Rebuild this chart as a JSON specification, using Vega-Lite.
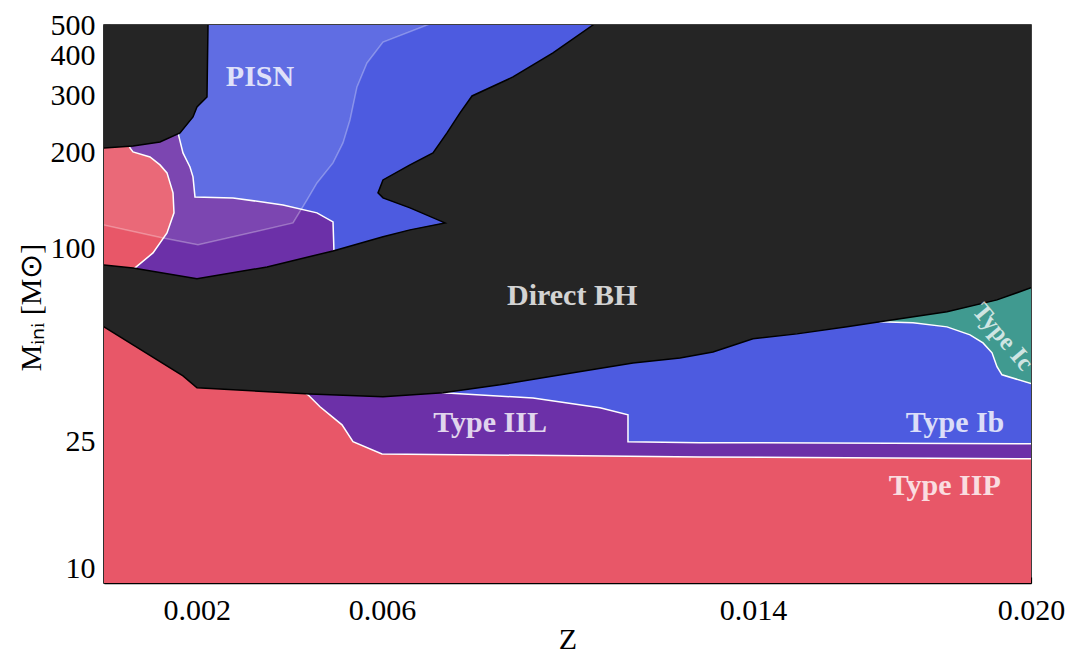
{
  "$schema": "https://vega.github.io/schema/vega-lite/v6.json",
  "width": 927,
  "height": 558,
  "autosize": {"type": "none"},
  "padding": {"left": 104, "top": 25, "right": 38, "bottom": 70},
  "background": "white",
  "config": {
    "view": {"stroke": "#000000", "strokeWidth": 1.5},
    "font": "Liberation Serif",
    "axis": {
      "grid": false,
      "domainColor": "#000000",
      "domainWidth": 1.5,
      "tickColor": "#000000",
      "tickWidth": 1.2,
      "tickSize": -6,
      "labelFont": "Liberation Serif",
      "labelFontSize": 30,
      "labelColor": "#000000",
      "labelFlush": false,
      "labelOverlap": false,
      "titleFont": "Liberation Serif",
      "titleFontSize": 30,
      "titleFontWeight": "normal",
      "titleColor": "#000000",
      "zindex": 1
    }
  },
  "datasets": {
    "bg": [
      {"Z": -0.001, "M": 8, "i": 0},
      {"Z": 0.021, "M": 8, "i": 1},
      {"Z": 0.021, "M": 600, "i": 2},
      {"Z": -0.001, "M": 600, "i": 3}
    ],
    "purple": [
      {"Z": 0.004229, "M": 36.2, "i": 0},
      {"Z": 0.004401, "M": 34.9, "i": 1},
      {"Z": 0.00466, "M": 32.0, "i": 2},
      {"Z": 0.004919, "M": 29.8, "i": 3},
      {"Z": 0.005135, "M": 28.1, "i": 4},
      {"Z": 0.005372, "M": 24.9, "i": 5},
      {"Z": 0.005998, "M": 22.8, "i": 6},
      {"Z": 0.012859, "M": 22.3, "i": 7},
      {"Z": 0.0206, "M": 22.0, "i": 8},
      {"Z": 0.0206, "M": 600, "i": 9},
      {"Z": -0.0005, "M": 600, "i": 10},
      {"Z": -0.0005, "M": 69.1, "i": 11}
    ],
    "blueTop": [
      {"Z": 0.001553, "M": 252.4, "i": 0},
      {"Z": 0.001597, "M": 229.9, "i": 1},
      {"Z": 0.001704, "M": 199.1, "i": 2},
      {"Z": 0.001855, "M": 179.9, "i": 3},
      {"Z": 0.00192, "M": 167.5, "i": 4},
      {"Z": 0.001963, "M": 145.0, "i": 5},
      {"Z": 0.002783, "M": 144.0, "i": 6},
      {"Z": 0.003862, "M": 136.9, "i": 7},
      {"Z": 0.004595, "M": 129.3, "i": 8},
      {"Z": 0.004941, "M": 121.2, "i": 9},
      {"Z": 0.004962, "M": 97.6, "i": 10},
      {"Z": 0.004962, "M": 90.9, "i": 11},
      {"Z": 0.010701, "M": 90.9, "i": 12},
      {"Z": 0.010701, "M": 600, "i": 13},
      {"Z": 0.001855, "M": 600, "i": 14}
    ],
    "blueLow": [
      {"Z": 0.006818, "M": 37.5, "i": 0},
      {"Z": 0.007314, "M": 35.4, "i": 1},
      {"Z": 0.009256, "M": 34.1, "i": 2},
      {"Z": 0.010701, "M": 31.8, "i": 3},
      {"Z": 0.011305, "M": 30.2, "i": 4},
      {"Z": 0.011305, "M": 24.9, "i": 5},
      {"Z": 0.012859, "M": 24.7, "i": 6},
      {"Z": 0.013873, "M": 24.7, "i": 7},
      {"Z": 0.0206, "M": 24.5, "i": 8},
      {"Z": 0.0206, "M": 79.8, "i": 9},
      {"Z": 0.006818, "M": 79.8, "i": 10}
    ],
    "teal": [
      {"Z": 0.016526, "M": 62.0, "i": 0},
      {"Z": 0.016742, "M": 59.0, "i": 1},
      {"Z": 0.017454, "M": 58.6, "i": 2},
      {"Z": 0.018188, "M": 56.9, "i": 3},
      {"Z": 0.018684, "M": 53.7, "i": 4},
      {"Z": 0.018964, "M": 50.7, "i": 5},
      {"Z": 0.019159, "M": 47.2, "i": 6},
      {"Z": 0.019266, "M": 42.7, "i": 7},
      {"Z": 0.019374, "M": 40.3, "i": 8},
      {"Z": 0.0206, "M": 35.6, "i": 9},
      {"Z": 0.0206, "M": 85.8, "i": 10}
    ],
    "redCircle": [
      {"Z": -0.0005, "M": 218.6, "i": 0},
      {"Z": 0.000518, "M": 218.6, "i": 1},
      {"Z": 0.000561, "M": 206.4, "i": 2},
      {"Z": 0.000626, "M": 200.5, "i": 3},
      {"Z": 0.000992, "M": 193.4, "i": 4},
      {"Z": 0.001208, "M": 182.6, "i": 5},
      {"Z": 0.001359, "M": 172.4, "i": 6},
      {"Z": 0.001489, "M": 149.3, "i": 7},
      {"Z": 0.00151, "M": 129.3, "i": 8},
      {"Z": 0.001359, "M": 111.9, "i": 9},
      {"Z": 0.001057, "M": 96.9, "i": 10},
      {"Z": 0.000669, "M": 87.0, "i": 11},
      {"Z": 0.000518, "M": 82.75, "i": 12},
      {"Z": -0.0005, "M": 82.75, "i": 13}
    ],
    "pisn": [
      {"Z": -0.0005, "M": 600, "i": 0},
      {"Z": 0.00781, "M": 557, "i": 1},
      {"Z": 0.006019, "M": 442.4, "i": 2},
      {"Z": 0.005674, "M": 380.4, "i": 3},
      {"Z": 0.005458, "M": 320.1, "i": 4},
      {"Z": 0.005307, "M": 252.4, "i": 5},
      {"Z": 0.005156, "M": 213.9, "i": 6},
      {"Z": 0.004941, "M": 185.3, "i": 7},
      {"Z": 0.004595, "M": 160.4, "i": 8},
      {"Z": 0.00438, "M": 141.9, "i": 9},
      {"Z": 0.004078, "M": 120.3, "i": 10},
      {"Z": 0.002028, "M": 102.7, "i": 11},
      {"Z": 0.001251, "M": 108.0, "i": 12},
      {"Z": -0.0005, "M": 122.9, "i": 13}
    ],
    "blackBig": [
      {"Z": 0.011003, "M": 557, "i": 0},
      {"Z": 0.0206, "M": 557, "i": 1},
      {"Z": 0.0206, "M": 77.6, "i": 2},
      {"Z": 0.02, "M": 75.4, "i": 3},
      {"Z": 0.019266, "M": 69.1, "i": 4},
      {"Z": 0.018188, "M": 63.4, "i": 5},
      {"Z": 0.016742, "M": 59.0, "i": 6},
      {"Z": 0.01603, "M": 56.9, "i": 7},
      {"Z": 0.014951, "M": 54.1, "i": 8},
      {"Z": 0.014002, "M": 52.2, "i": 9},
      {"Z": 0.013139, "M": 47.5, "i": 10},
      {"Z": 0.012427, "M": 45.5, "i": 11},
      {"Z": 0.011413, "M": 43.9, "i": 12},
      {"Z": 0.009989, "M": 40.6, "i": 13},
      {"Z": 0.008544, "M": 37.5, "i": 14},
      {"Z": 0.007314, "M": 35.4, "i": 15},
      {"Z": 0.006019, "M": 34.4, "i": 16},
      {"Z": 0.004444, "M": 35.1, "i": 17},
      {"Z": 0.002006, "M": 36.7, "i": 18},
      {"Z": 0.001704, "M": 40.0, "i": 19},
      {"Z": 0.000626, "M": 50.0, "i": 20},
      {"Z": 0.0, "M": 56.9, "i": 21},
      {"Z": -0.0005, "M": 62.95, "i": 22},
      {"Z": -0.0005, "M": 90.2, "i": 23},
      {"Z": 0.0, "M": 88.9, "i": 24},
      {"Z": 0.000626, "M": 87.0, "i": 25},
      {"Z": 0.002006, "M": 80.4, "i": 26},
      {"Z": 0.003517, "M": 87.6, "i": 27},
      {"Z": 0.004941, "M": 98.3, "i": 28},
      {"Z": 0.006019, "M": 108.8, "i": 29},
      {"Z": 0.006602, "M": 114.4, "i": 30},
      {"Z": 0.007357, "M": 120.3, "i": 31},
      {"Z": 0.006602, "M": 134.0, "i": 32},
      {"Z": 0.006019, "M": 144.0, "i": 33},
      {"Z": 0.005911, "M": 149.3, "i": 34},
      {"Z": 0.006019, "M": 163.9, "i": 35},
      {"Z": 0.006602, "M": 182.6, "i": 36},
      {"Z": 0.007098, "M": 199.1, "i": 37},
      {"Z": 0.0074, "M": 229.9, "i": 38},
      {"Z": 0.007681, "M": 265.5, "i": 39},
      {"Z": 0.00794, "M": 300.0, "i": 40},
      {"Z": 0.008824, "M": 344.0, "i": 41},
      {"Z": 0.009687, "M": 408.8, "i": 42},
      {"Z": 0.01055, "M": 500, "i": 43}
    ],
    "blackTL": [
      {"Z": -0.0005, "M": 557, "i": 0},
      {"Z": 0.002265, "M": 557, "i": 1},
      {"Z": 0.002244, "M": 500, "i": 2},
      {"Z": 0.002222, "M": 297.9, "i": 3},
      {"Z": 0.002006, "M": 277.1, "i": 4},
      {"Z": 0.00192, "M": 257.9, "i": 5},
      {"Z": 0.00164, "M": 229.9, "i": 6},
      {"Z": 0.001208, "M": 215.4, "i": 7},
      {"Z": 0.000626, "M": 209.3, "i": 8},
      {"Z": 0.0, "M": 206.4, "i": 9},
      {"Z": -0.0005, "M": 204.8, "i": 10}
    ],
    "labels": [
      {"Z": 0.003366, "M": 344, "label": "PISN"},
      {"Z": 0.0101, "M": 71.1, "label": "Direct BH"},
      {"Z": 0.00833, "M": 28.5, "label": "Type IIL"},
      {"Z": 0.01836, "M": 28.5, "label": "Type Ib"},
      {"Z": 0.01814, "M": 18.1, "label": "Type IIP"}
    ],
    "labelIc": [
      {"Z": 0.0194, "M": 53.0, "label": "Type Ic"}
    ]
  },
  "encoding": {
    "x": {
      "field": "Z",
      "type": "quantitative",
      "scale": {"domain": [0, 0.02], "nice": false, "zero": false},
      "axis": {
        "title": "Z",
        "values": [0.002, 0.006, 0.014, 0.02],
        "format": ".3f",
        "labelPadding": 18,
        "titleY": 65,
        "titleBaseline": "alphabetic"
      }
    },
    "y": {
      "field": "M",
      "type": "quantitative",
      "scale": {"type": "log", "domain": [9, 500], "nice": false},
      "axis": {
        "title": "Mᵢₙᵢ [M⊙]",
        "values": [10, 25, 100, 200, 300, 400, 500],
        "format": "d",
        "labelPadding": 15,
        "titleX": -64,
        "titleY": 282,
        "titleBaseline": "alphabetic"
      }
    }
  },
  "layer": [
    {
      "data": {"name": "bg"},
      "mark": {"type": "line", "interpolate": "linear-closed", "fill": "#e85768", "stroke": "#e85768", "strokeWidth": 0, "clip": true},
      "encoding": {"order": {"field": "i", "type": "quantitative"}}
    },
    {
      "data": {"name": "purple"},
      "mark": {"type": "line", "interpolate": "linear-closed", "fill": "#6c30a8", "stroke": "#ffffff", "strokeWidth": 1.5, "clip": true},
      "encoding": {"order": {"field": "i", "type": "quantitative"}}
    },
    {
      "data": {"name": "blueTop"},
      "mark": {"type": "line", "interpolate": "linear-closed", "fill": "#4d5be0", "stroke": "#ffffff", "strokeWidth": 1.5, "clip": true},
      "encoding": {"order": {"field": "i", "type": "quantitative"}}
    },
    {
      "data": {"name": "blueLow"},
      "mark": {"type": "line", "interpolate": "linear-closed", "fill": "#4d5be0", "stroke": "#ffffff", "strokeWidth": 1.5, "clip": true},
      "encoding": {"order": {"field": "i", "type": "quantitative"}}
    },
    {
      "data": {"name": "teal"},
      "mark": {"type": "line", "interpolate": "linear-closed", "fill": "#409a90", "stroke": "#ffffff", "strokeWidth": 1.5, "clip": true},
      "encoding": {"order": {"field": "i", "type": "quantitative"}}
    },
    {
      "data": {"name": "redCircle"},
      "mark": {"type": "line", "interpolate": "linear-closed", "fill": "#e85768", "stroke": "#ffffff", "strokeWidth": 1.5, "clip": true},
      "encoding": {"order": {"field": "i", "type": "quantitative"}}
    },
    {
      "data": {"name": "pisn"},
      "mark": {"type": "line", "interpolate": "linear-closed", "fill": "#ffffff", "fillOpacity": 0.11, "stroke": "#ffffff", "strokeOpacity": 0.3, "strokeWidth": 1.5, "clip": true},
      "encoding": {"order": {"field": "i", "type": "quantitative"}}
    },
    {
      "data": {"name": "blackBig"},
      "mark": {"type": "line", "interpolate": "linear-closed", "fill": "#252525", "stroke": "#000000", "strokeWidth": 1.5, "clip": true},
      "encoding": {"order": {"field": "i", "type": "quantitative"}}
    },
    {
      "data": {"name": "blackTL"},
      "mark": {"type": "line", "interpolate": "linear-closed", "fill": "#252525", "stroke": "#000000", "strokeWidth": 1.5, "clip": true},
      "encoding": {"order": {"field": "i", "type": "quantitative"}}
    },
    {
      "data": {"name": "labels"},
      "mark": {"type": "text", "font": "Liberation Serif", "fontSize": 30, "fontWeight": "bold", "fill": "#ffffff", "opacity": 0.8, "align": "center", "baseline": "middle"},
      "encoding": {"text": {"field": "label"}}
    },
    {
      "data": {"name": "labelIc"},
      "mark": {"type": "text", "font": "Liberation Serif", "fontSize": 25, "fontWeight": "bold", "fill": "#ffffff", "opacity": 0.75, "align": "center", "baseline": "middle", "angle": 50},
      "encoding": {"text": {"field": "label"}}
    }
  ]
}
